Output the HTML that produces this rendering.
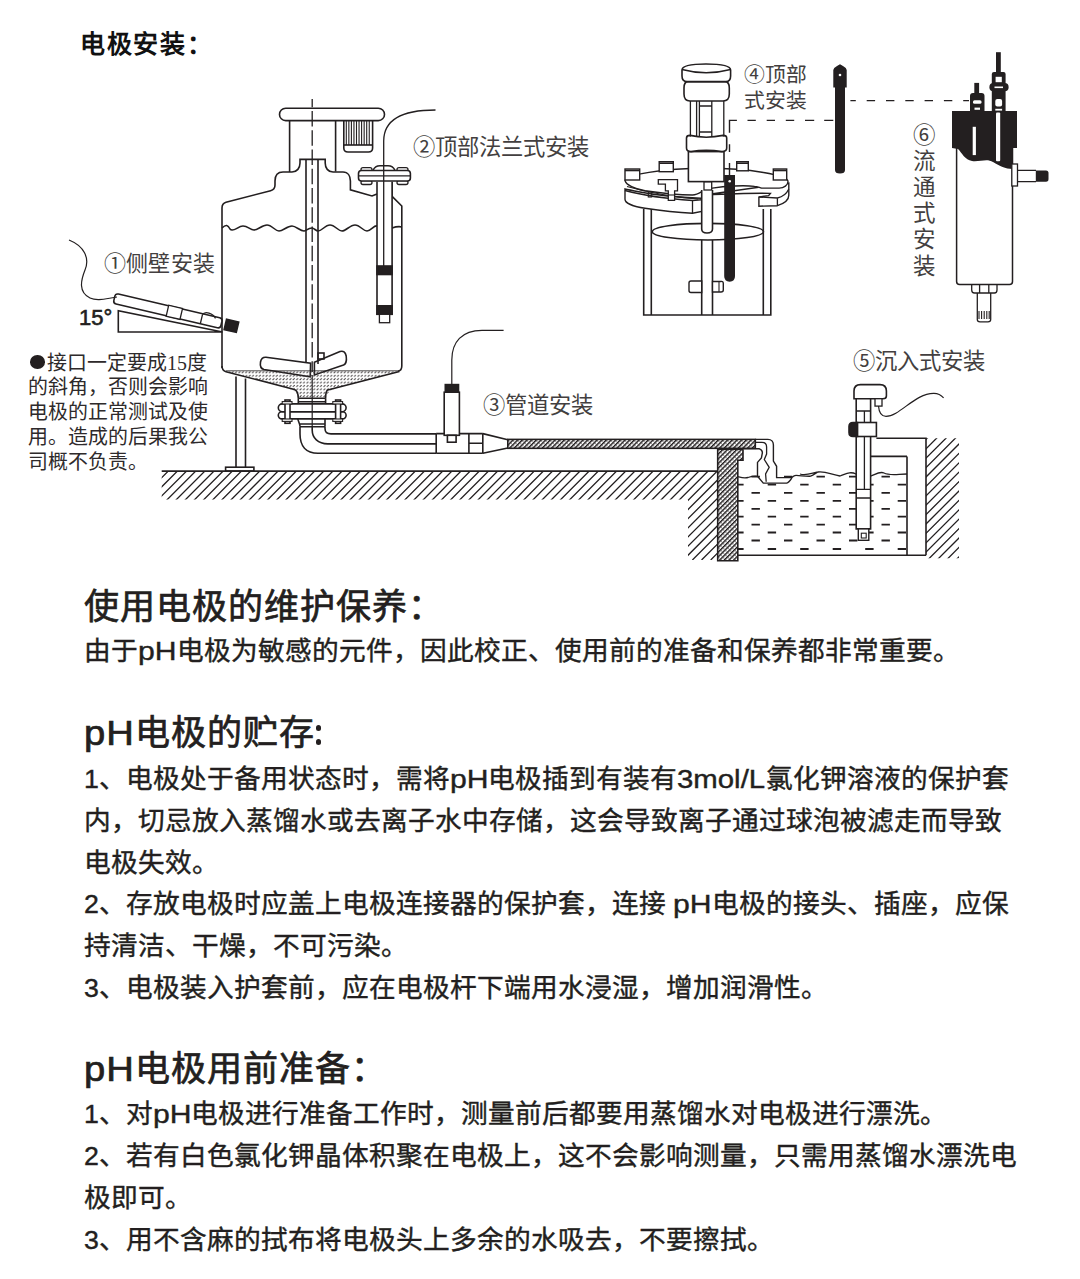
<!DOCTYPE html>
<html lang="zh-CN"><head><meta charset="utf-8">
<style>
html,body{margin:0;padding:0;background:#fff;}
body{width:1080px;height:1279px;position:relative;overflow:hidden;font-family:"Liberation Sans",sans-serif;color:#231f20;}
.t{position:absolute;white-space:nowrap;line-height:1;}
.h{font-size:35px;letter-spacing:1px;-webkit-text-stroke:0.7px #231f20;}
.b{font-size:26.7px;-webkit-text-stroke:0.4px #231f20;}
.sw{display:inline-block;white-space:nowrap;}
.si{display:inline-block;transform-origin:0 50%;}
.phh{letter-spacing:2.5px;}
.la{letter-spacing:1px;}
.lb{position:absolute;white-space:nowrap;line-height:1;font-family:"Liberation Serif",serif;color:#433f40;}
svg{position:absolute;left:0;top:0;}
</style></head><body>
<svg width="1080" height="570" viewBox="0 0 1080 570">
<defs>
 <pattern id="stip" width="3.4" height="3.4" patternUnits="userSpaceOnUse">
  <path d="M0.5,2.7 L2.3,0.9" stroke="#3a3637" stroke-width="1"/>
 </pattern>
 <pattern id="fh" width="3.3" height="3.3" patternUnits="userSpaceOnUse" patternTransform="rotate(45)">
  <line x1="0.7" y1="0" x2="0.7" y2="3.3" stroke="#231f20" stroke-width="1.4"/>
  <circle cx="2.3" cy="1.6" r="0.5" fill="#231f20"/>
 </pattern>
 <clipPath id="gclip"><path d="M161.7,471.1 H717.7 V560 H688 V499.5 H161.7 Z"/></clipPath>
 <clipPath id="wclip"><rect x="926" y="438.3" width="33" height="120"/></clipPath>
</defs>
<g fill="none" stroke="#231f20" stroke-width="1.6"><rect x="279.5" y="108.2" width="105" height="12.4" rx="6.2"/>
<path d="M289.6,120.6 V172 M335.6,120.6 V171.5"/>
<path d="M343.8,120.6 V148 Q343.8,152 348,152 H368.4 Q372.6,152 372.6,148 V120.6"/>
<path d="M343.8,145 H372.6"/>
<path d="M346.30,120.6 V145 M348.85,120.6 V145 M351.40,120.6 V145 M353.95,120.6 V145 M356.50,120.6 V145 M359.05,120.6 V145 M361.60,120.6 V145 M364.15,120.6 V145 M366.70,120.6 V145 M369.25,120.6 V145" stroke-width="1.1"/>
<path d="M222,368 V208 C222,205 223.5,203 226,202.3 L270.6,190.7 C273.5,190 275,188 275,185 L275,181 C275,176 277,172 283,172 L292,172 C297,172 300,168 300,163 L300,159.4 L325.2,159.4 L325.2,163 C325.2,168 328,172 333,172 L343,172 C348,172 350.4,176 350.4,181 L350.4,189.8 L372,196 L377,194"/>
<path d="M392.1,181.8 V196.3 L401.8,206 V366 Q401.8,370.6 398,371.2"/>
<path d="M306,159.4 V362 M318,159.4 V364"/>
<path d="M312.2,99 V372" stroke-width="1.3" stroke-dasharray="15.5,3.74" stroke-dashoffset="7.2"/>
<path d="M312.2,375 V426.7" stroke-width="1.2"/>
<path d="M222,228 C226,224 228,225 230,229 C233,233 238,226 243,226 C248,226 250,230 254,230 C258,230 262,225 267,225 C272,225 275,231 279,231 C283,231 287,226 292,226 C296,226 300,231 304,231 C306,231 308,228 312,228 C314,228 316,231 318,231 C322,231 325,225 330,225 C335,225 338,231 342,231 C346,231 350,225 355,225 C360,225 363,231 367,231 C371,231 374,225 377,226 L392,228 C395,227 398,226 401.8,227"/>
<path d="M266,357.3 L310.6,363.3 L310.2,376.7 L264,369.5 Q259.5,368.5 260.5,362 Q261.5,357 266,357.3 Z"/>
<path d="M314.4,362.2 L340,351.5 Q345,350 346.2,356 Q347.2,363.5 343.5,365 L314.4,375 Z"/>
<rect x="318" y="353" width="6" height="6"/>
<path d="M224,370.8 H399.4 L367.8,380 C333,388 327.8,390 325.6,398.3 H298.3 C296.5,390 294.4,389.4 260,380 Z" fill="url(#stip)" stroke="none"/>
<path d="M222,366 Q222,370.6 226,371.7 L294.4,389.4 C297,390.5 298.3,394 298.3,398.3"/>
<path d="M399.4,371.4 L327.8,390 C326,391 325.6,394 325.6,398.3"/>
<path d="M226,370.8 H399" stroke-width="0.8"/>
<path d="M298.3,398.3 H325.6 M298.3,401.7 H325.6 M298.3,398.3 V403.9 M325.6,398.3 V403.9"/>
<rect x="278.3" y="403.9" width="67.8" height="7.8" rx="3.9"/>
<rect x="278.3" y="411.7" width="67.8" height="7.2" rx="3.6"/>
<rect x="285.0" y="400" width="5" height="23.3" fill="#fff"/>
<rect x="282.2" y="401.6" width="9.8" height="2.4" fill="#fff" stroke-width="1.1"/>
<rect x="282.2" y="419" width="9.8" height="2.4" fill="#fff" stroke-width="1.1"/>
<rect x="335.6" y="400" width="5" height="23.3" fill="#fff"/>
<rect x="332.8" y="401.6" width="9.8" height="2.4" fill="#fff" stroke-width="1.1"/>
<rect x="332.8" y="419" width="9.8" height="2.4" fill="#fff" stroke-width="1.1"/>
<path d="M297.8,418.9 C298.5,422 300,424 300,426.7 M325,418.9 C325,421 325,423 325,426.7 M299,424 H325 M300,426.7 H325"/>
<path d="M300,426.7 V434 C300,446 306,453.3 318,453.3 H436.2"/>
<path d="M312.2,426.7 V430 C312.2,438 318,443.9 327.8,443.9 H436.2"/>
<path d="M325,426.7 V428.5 C325,432 327,433.9 331,433.9 H436.2"/>
<path d="M236,376.5 V467.2 M245.5,378.5 V467.2"/>
<rect x="225.6" y="467.2" width="28.3" height="3.9"/></g><g clip-path="url(#gclip)"><path d="M70.20,560 L160.20,470 M79.35,560 L169.35,470 M88.50,560 L178.50,470 M97.65,560 L187.65,470 M106.80,560 L196.80,470 M115.95,560 L205.95,470 M125.10,560 L215.10,470 M134.25,560 L224.25,470 M143.40,560 L233.40,470 M152.55,560 L242.55,470 M161.70,560 L251.70,470 M170.85,560 L260.85,470 M180.00,560 L270.00,470 M189.15,560 L279.15,470 M198.30,560 L288.30,470 M207.45,560 L297.45,470 M216.60,560 L306.60,470 M225.75,560 L315.75,470 M234.90,560 L324.90,470 M244.05,560 L334.05,470 M253.20,560 L343.20,470 M262.35,560 L352.35,470 M271.50,560 L361.50,470 M280.65,560 L370.65,470 M289.80,560 L379.80,470 M298.95,560 L388.95,470 M308.10,560 L398.10,470 M317.25,560 L407.25,470 M326.40,560 L416.40,470 M335.55,560 L425.55,470 M344.70,560 L434.70,470 M353.85,560 L443.85,470 M363.00,560 L453.00,470 M372.15,560 L462.15,470 M381.30,560 L471.30,470 M390.45,560 L480.45,470 M399.60,560 L489.60,470 M408.75,560 L498.75,470 M417.90,560 L507.90,470 M427.05,560 L517.05,470 M436.20,560 L526.20,470 M445.35,560 L535.35,470 M454.50,560 L544.50,470 M463.65,560 L553.65,470 M472.80,560 L562.80,470 M481.95,560 L571.95,470 M491.10,560 L581.10,470 M500.25,560 L590.25,470 M509.40,560 L599.40,470 M518.55,560 L608.55,470 M527.70,560 L617.70,470 M536.85,560 L626.85,470 M546.00,560 L636.00,470 M555.15,560 L645.15,470 M564.30,560 L654.30,470 M573.45,560 L663.45,470 M582.60,560 L672.60,470 M591.75,560 L681.75,470 M600.90,560 L690.90,470 M610.05,560 L700.05,470 M619.20,560 L709.20,470 M628.35,560 L718.35,470 M637.50,560 L727.50,470 M646.65,560 L736.65,470 M655.80,560 L745.80,470 M664.95,560 L754.95,470 M674.10,560 L764.10,470 M683.25,560 L773.25,470 M692.40,560 L782.40,470 M701.55,560 L791.55,470 M710.70,560 L800.70,470 M719.85,560 L809.85,470 M729.00,560 L819.00,470 M738.15,560 L828.15,470 M747.30,560 L837.30,470 M756.45,560 L846.45,470 M765.60,560 L855.60,470 M774.75,560 L864.75,470 M783.90,560 L873.90,470 M793.05,560 L883.05,470" stroke="#231f20" stroke-width="1.3" fill="none"/></g><path d="M161.7,471.1 H717.7" stroke="#231f20" stroke-width="1.6"/><g fill="none" stroke="#231f20" stroke-width="1.6"><path d="M436.2,433.6 V453.3 M468.9,433.6 V453.3 M482.8,433.6 V453.3 M436.2,433.6 H482.8 M436.2,453.3 H482.8 M468.9,443.3 H482.8"/>
<path d="M482.8,433.6 L507.8,439.7 M482.8,453.3 L507.8,448"/>
<rect x="444.2" y="392.2" width="15.2" height="43.1" fill="#fff"/>
<rect x="447.4" y="435.3" width="8.7" height="6.9" fill="#fff"/>
<rect x="445.3" y="384.6" width="13.2" height="7.6" fill="#231f20"/>
<path d="M451.8,384.6 V360 C451.8,342 462,330.4 482,330.4 H503.6" stroke-width="1.2"/></g><g fill="none" stroke="#231f20" stroke-width="1.6"><rect x="507.8" y="439.4" width="247.5" height="8.9" fill="url(#fh)"/>
<path d="M717.7,449.2 H743 V460.2 H737.8 V560.7 H717.7 Z" fill="url(#fh)"/>
<path d="M755.3,439.4 H767.9 C771.5,439.4 773.4,442 773.4,445 V461.1 L776.6,466.3 V477.6 H791.8 C793,476.5 794,475.4 796,475.4 C800,475.4 805,476.5 810,476.3" stroke-width="1.4"/>
<path d="M755.6,442.3 H762 C765,442.3 766.6,444.5 766.6,447 V454 L764.3,459.5 L769.2,467.3 L765.6,474 L766.2,481.8" stroke-width="1.3"/>
<path d="M743.9,448.8 H759.4 C761.5,449.5 762.4,451 762.4,452.7 L761.4,457.9 L757.5,462.4 V476.3 L763.3,483.1 H786.7 C789,482.5 790.5,480 791.8,478" stroke-width="1.4"/></g><g fill="none" stroke="#231f20" stroke-width="1.6"><path d="M737.8,476.7 C741,477.5 744,478.5 748,477.5 C751,476.5 754,475.5 757.5,476.3" stroke-width="1.3"/>
<path d="M810,476.3 C814,475 816,473 818,472 C826,471 832,475 840,476 C846,474 850,471 856,474 M800,474 C806,476 812,473 818,472 C826,471 832,475 840,476 C846,474 850,471 856,474 L871,476 C876,474 880,471 884,473 C890,476 898,474 907,474" stroke-width="1.3"/>
<path d="M737.8,555.3 H926 M907,456.4 V555.3 M870.6,456.4 H907 M876.4,438.3 H926 V555.3"/>
<path d="M751.5,476.7 H759.9 M784.0,476.7 H792.4 M816.5,476.7 H824.9 M849.0,476.7 H857.4 M881.5,476.7 H889.9 M737.8,484.6 H743.6 M767.7,484.6 H776.1 M800.2,484.6 H808.6 M832.7,484.6 H841.1 M865.2,484.6 H873.6 M897.7,484.6 H906.0 M751.5,492.8 H759.9 M784.0,492.8 H792.4 M816.5,492.8 H824.9 M849.0,492.8 H857.4 M881.5,492.8 H889.9 M737.8,500.8 H743.6 M767.7,500.8 H776.1 M800.2,500.8 H808.6 M832.7,500.8 H841.1 M865.2,500.8 H873.6 M897.7,500.8 H906.0 M751.5,508.8 H759.9 M784.0,508.8 H792.4 M816.5,508.8 H824.9 M849.0,508.8 H857.4 M881.5,508.8 H889.9 M737.8,516.7 H743.6 M767.7,516.7 H776.1 M800.2,516.7 H808.6 M832.7,516.7 H841.1 M865.2,516.7 H873.6 M897.7,516.7 H906.0 M751.5,524.6 H759.9 M784.0,524.6 H792.4 M816.5,524.6 H824.9 M849.0,524.6 H857.4 M881.5,524.6 H889.9 M737.8,532.5 H743.6 M767.7,532.5 H776.1 M800.2,532.5 H808.6 M832.7,532.5 H841.1 M865.2,532.5 H873.6 M897.7,532.5 H906.0 M751.5,540.5 H759.9 M784.0,540.5 H792.4 M816.5,540.5 H824.9 M849.0,540.5 H857.4 M881.5,540.5 H889.9 M737.8,549.0 H743.6 M767.7,549.0 H776.1 M800.2,549.0 H808.6 M832.7,549.0 H841.1 M865.2,549.0 H873.6 M897.7,549.0 H906.0" stroke-width="1.8"/></g><g clip-path="url(#wclip)"><path d="M796.00,560 L926.00,430 M805.40,560 L935.40,430 M814.80,560 L944.80,430 M824.20,560 L954.20,430 M833.60,560 L963.60,430 M843.00,560 L973.00,430 M852.40,560 L982.40,430 M861.80,560 L991.80,430 M871.20,560 L1001.20,430 M880.60,560 L1010.60,430 M890.00,560 L1020.00,430 M899.40,560 L1029.40,430 M908.80,560 L1038.80,430 M918.20,560 L1048.20,430 M927.60,560 L1057.60,430 M937.00,560 L1067.00,430 M946.40,560 L1076.40,430 M955.80,560 L1085.80,430 M965.20,560 L1095.20,430 M974.60,560 L1104.60,430" stroke="#231f20" stroke-width="1.3" fill="none"/></g><g fill="none" stroke="#231f20" stroke-width="1.6"><path d="M856.2,398.7 V528.9 H870.6 V398.7" fill="#fff"/>
<path d="M854,398.7 V391 Q854,384.6 860.5,384.6 H880 Q886.4,384.6 886.4,391 V396 Q886.4,398.7 883,398.7 Z" fill="#fff"/>
<rect x="875" y="398.7" width="7" height="7.4" fill="#fff" stroke-width="1.3"/>
<path d="M856.2,411 H870.6 M864.4,411 V489 M856.2,489.3 H870.6 M856.2,498 H870.6" stroke-width="1.3"/>
<rect x="857.4" y="422.5" width="19" height="14" fill="#fff"/>
<path d="M857.4,422.5 H853 Q849,422.5 849,426.5 V432.5 Q849,436.5 853,436.5 H857.4 Z" fill="#231f20"/>
<rect x="858.3" y="528.9" width="10.5" height="11.4" fill="#fff" stroke-width="1.4"/>
<rect x="861.3" y="533.2" width="4.9" height="4.8" stroke-width="1.1"/>
<path d="M878.5,406 C879,413 881,416.3 886,416.3 C900,416.3 915,393 934,393.4 C938,393.5 941,395 943.6,397.8" stroke-width="1.2"/></g><g fill="none" stroke="#231f20" stroke-width="1.6"><path d="M118.3,310.8 V332 H222.5 Z" fill="#fff"/>
<g transform="translate(116,293.5) rotate(13.2)"><rect x="-0.5" y="0" width="110" height="10.2" rx="3" fill="#fff"/><rect x="54" y="-0.6" width="14.2" height="11.2" fill="#fff" stroke-width="1.3"/><path d="M89,1 V10.2 M89,1 Q90,-2.5 95,-2.2 Q100,-1.8 102.6,1.5" stroke-width="1.3"/><rect x="113.5" y="-0.2" width="12.5" height="10.6" fill="#231f20"/></g>
<path d="M117,297 C108,298 98,302 90,298 C78,292 81,280 85,270 C90,258 84,246 69,240" stroke-width="1.2"/></g><g fill="none" stroke="#231f20" stroke-width="1.6"><path d="M377,181.8 V314.3 H392.1 V181.8" fill="#fff"/>
<rect x="377" y="266" width="15.1" height="8.5" fill="#231f20"/>
<rect x="377" y="305.8" width="15.1" height="8.5" fill="#231f20"/>
<rect x="379.4" y="314.3" width="10.3" height="8.4" fill="#fff" stroke-width="1.3"/>
<path d="M373,170.5 Q375,165.8 380,165.8 H388 Q393,165.8 395,170.5" fill="#fff"/>
<rect x="361" y="167.6" width="11" height="4" rx="2" fill="#fff" stroke-width="1.3"/>
<rect x="397" y="167.6" width="11" height="4" rx="2" fill="#fff" stroke-width="1.3"/>
<rect x="361" y="180.5" width="11" height="4" rx="2" fill="#fff" stroke-width="1.3"/>
<rect x="397" y="180.5" width="11" height="4" rx="2" fill="#fff" stroke-width="1.3"/>
<rect x="358.5" y="170.5" width="51.9" height="10.5" rx="3" fill="#fff"/>
<path d="M358.5,175.8 H410.4" stroke-width="1.3"/>
<path d="M383.7,266 V141 C383.7,122 398,110 435.5,110" stroke-width="1.3"/></g><g fill="none" stroke="#231f20" stroke-width="1.6"><path d="M643.7,209 V315 H770.8 V209 M651.3,209 V315 M763.3,209 V315"/>
<ellipse cx="707.9" cy="231.7" rx="55.6" ry="8.3"/>
<path d="M701.7,240 V315 M712.5,240 V315"/>
<path d="M701.7,281 H691 Q689,281 689,283 V290.5 Q689,292.5 691,292.5 H701.7 Z" fill="#fff" stroke-width="1.4"/>
<path d="M712.5,281.5 H721 Q723.3,281 723.3,283.5 V290 Q723.3,292 721,292 H712.5 Z" fill="#fff" stroke-width="1.4"/>
<path d="M719,281.5 V292" stroke-width="1.1"/>
<path d="M625,189 V199.2 C625,203 633,206.5 645,208.3 C660,210.5 678,212.5 692.5,213.3 L704.2,211 V199.5 L701,198.3 C680,197.5 655,195 640,192 C632,190.5 627,189.5 625,189 Z" fill="#fff" stroke-width="1.4"/>
<path d="M692.5,213.3 V200.5 L704.2,199.5 M692.5,200.5 C670,199 645,196 625,190.5" stroke-width="1.3"/>
<path d="M704.2,195 C730,193.8 755,193 770.4,193.4 L768.6,195.6 L758.9,197 V206.2 L777.4,205.7 C784,203.5 788.8,199.5 788.8,195.2 V183 Z" fill="#fff" stroke-width="1.4"/>
<path d="M758.9,197 L777.4,198 C782,197 786.5,194 788.8,189 M777.4,198 V205.7" stroke-width="1.3"/>
<path d="M625,180.5 C625,175 662,168.3 706,168.3 C750,168.3 788,175 788,181.5 C788,185 784,188.1 779.2,188.1 L761.6,188.1 C758,187 757,186.4 754.5,186.4 C745,185 725,186 712.3,188.1 L701.7,191.7 C698,194 695,195 692.5,195 C680,195 660,193 645,190.8 C635,189 626,185 625,180.5 Z" fill="#fff" stroke-width="1.4"/>
<path d="M627,186.5 C650,193 675,197 698.3,199.2" stroke-width="1.2"/>
<rect x="648.3" y="192" width="3.4" height="5" stroke-width="1.1"/>
<path d="M701.7,190 V229 Q701.7,233 707,233 Q712.5,233 712.5,229 V190" fill="#fff"/>
<rect x="704" y="181.7" width="7.7" height="8.3" fill="#fff" stroke-width="1.3"/>
<path d="M658.3,179.7 H677.5 V190.8 H674.6 V200.4 H668.3 V190.8 H665.4 V184.2 H658.3 Z" fill="#fff" stroke-width="1.3"/>
<path d="M668.3,195 H674.2" stroke-width="1.1"/>
<rect x="625" y="169" width="14.7" height="11" fill="#fff" stroke-width="1.4"/>
<path d="M625,170.5 H639.7" stroke-width="1.6"/>
<rect x="659.2" y="161.7" width="14.1" height="10" fill="#fff" stroke-width="1.4"/>
<path d="M659.2,163.2 H673.3000000000001" stroke-width="1.6"/>
<rect x="736.7" y="161.7" width="11.6" height="9.1" fill="#fff" stroke-width="1.4"/>
<path d="M736.7,163.2 H748.3000000000001" stroke-width="1.6"/>
<rect x="773.3" y="169" width="13.4" height="11" fill="#fff" stroke-width="1.4"/>
<path d="M773.3,170.5 H786.6999999999999" stroke-width="1.6"/>
<rect x="688.4" y="151.6" width="35.6" height="30" fill="#fff"/>
<path d="M686.5,138 Q686.5,135.4 690,135.4 Q706,139 723,135.4 Q726.7,135.4 726.7,138 V148 Q726.7,151.6 722,151.6 Q706,149 691,151.6 Q686.5,151.6 686.5,148 Z" fill="#fff"/>
<path d="M690.4,101 V136.5 M723.8,101 V136.5 M696.6,101 V137 M699.4,101 V137 M711.8,101 V137 M699.4,106 H711.8 M699.4,132 H711.8" stroke-width="1.3"/>
<path d="M688,81.6 H725 Q729.3,81.6 729.3,88 V94 Q729.3,101 723,101 H690 Q684,101 684,94 V88 Q684,81.6 688,81.6 Z" fill="#fff"/>
<path d="M682,70 Q682,64 706,64 Q730.6,64 730.6,70 V76 Q730.6,81.6 726,81.6 H687 Q682,81.6 682,76 Z" fill="#fff"/>
<path d="M682,69.5 Q706,76 730.6,69.5" stroke-width="1.3"/>
<path d="M724.2,175 H735 V276 Q735,281.7 729.6,281.7 Q724.2,281.7 724.2,276 Z" fill="#231f20" stroke="none"/>
<circle cx="729.7" cy="181.3" r="1.3" fill="#fff" stroke="none"/>
<path d="M736.9,120.4 H729.5 V132.7 M729.5,144.2 V151.9 M729.5,163.1 V175 M747.5,120.4 H755.8 M766.7,120.4 H775 M785.8,120.4 H794.2 M805,120.4 H814.2 M824.2,120.4 H833.3" stroke-width="1.4"/>
<path d="M850.4,100.6 H969" stroke-width="1.4" stroke-dasharray="8.4,10.9" stroke-dashoffset="3"/></g><path d="M835,87.5 V170 Q835,173.5 840,173.5 Q845,173.5 845,170 V87.5 H846.7 V70 Q846.7,68 843,66 L840,64.2 L837,66 Q833.3,68 833.3,70 V87.5 Z" fill="#231f20"/><circle cx="840" cy="75" r="1.3" fill="#fff"/><g fill="none" stroke="#231f20" stroke-width="1.5"><path d="M956.6,148 V281.5 Q956.6,284.5 959.6,284.5 H1009.5 Q1012.5,284.5 1012.5,281.5 V148" fill="#fff"/>
<path d="M952,111 H1017 V148 H1012.8 V169 C1005,169 1000,166 993,162 C987,158 980,162 972,161 C965,160 962,153 958,149 L952,148 Z" fill="#231f20" stroke="none"/>
<rect x="972.7" y="126.8" width="3.2" height="28.3" fill="#fff" stroke="none"/>
<rect x="996" y="112.4" width="4.2" height="48.8" fill="#fff" stroke="none" rx="1"/>
<rect x="974.3" y="82.9" width="4.8" height="11" fill="#231f20" stroke="none"/>
<path d="M970,111 V96 Q970,93 973,93 H981.5 Q984.5,93 984.5,96 V111 Z" fill="#231f20" stroke="none"/>
<rect x="973" y="100.2" width="8.5" height="3.6" rx="1.5" fill="#fff" stroke="none"/>
<rect x="974.5" y="107.6" width="5.5" height="2.2" fill="#fff" stroke="none"/>
<rect x="996" y="52.2" width="4.8" height="20" fill="#231f20" stroke="none"/>
<path d="M991.8,111 V74 Q991.8,72 994,72 H1003.5 Q1005.6,72 1005.6,74 V111 Z" fill="#231f20" stroke="none"/>
<rect x="989.4" y="83" width="19.2" height="8.3" rx="4" fill="#231f20" stroke="none"/>
<rect x="995.6" y="76.8" width="6.2" height="5.4" fill="#fff" stroke="none"/>
<rect x="994.5" y="86.5" width="8.5" height="1.6" fill="#fff" stroke="none"/>
<rect x="995.3" y="99" width="6.8" height="7.4" rx="2" fill="#fff" stroke="none"/>
<rect x="995.3" y="108.8" width="6.8" height="1.8" fill="#fff" stroke="none"/>
<rect x="1011.8" y="164" width="5.7" height="22" fill="#fff" stroke-width="1.3"/>
<path d="M1017.5,170.4 H1036 M1017.5,181.7 H1036" stroke-width="1.3"/>
<path d="M1035.8,170.4 H1046 Q1048.5,170.4 1048.5,173 V179 Q1048.5,181.7 1046,181.7 H1035.8 Z" fill="#231f20" stroke="none"/>
<path d="M971.7,284.5 V290 Q971.7,293 974.5,293 H994.5 Q997,293 997,290 V284.5 M979.6,284.5 V293 M988.8,284.5 V293" stroke-width="1.3"/>
<path d="M977.3,293 V319.5 Q977.3,321.8 980,321.8 H988 Q990.7,321.8 990.7,319.5 V293" stroke-width="1.3"/>
<path d="M979,311 V319 M981.6,311 V319 M984.2,311 V319 M986.8,311 V319 M989.2,311 V319" stroke-width="1.1"/></g></svg>

<div class="lb" style="left:104px;top:253px;font-size:22px;letter-spacing:0.2px">①侧壁安装</div>
<div class="lb" style="left:413px;top:136.5px;font-size:22.3px">②顶部法兰式安装</div>
<div class="lb" style="left:482.5px;top:394.5px;font-size:22.3px">③管道安装</div>
<div class="lb" style="left:744px;top:62px;font-size:20.8px;line-height:25.5px">④顶部<br>式安装</div>
<div class="lb" style="left:852.5px;top:351px;font-size:22.3px">⑤沉入式安装</div>
<div class="lb" style="left:913px;top:122.5px;font-size:22.5px;line-height:26.2px;width:24px;white-space:normal">⑥<br>流<br>通<br>式<br>安<br>装</div>
<div class="t" style="left:79px;top:306.5px;font-size:22px;font-family:'Liberation Sans',sans-serif;color:#231f20;-webkit-text-stroke:0.6px #231f20">15°</div>
<div style="position:absolute;left:30.3px;top:355.4px;width:14.6px;height:13.6px;border-radius:50%;background:#231f20"></div>
<div class="lb" style="left:47px;top:350.5px;font-size:19.9px;line-height:24.9px;color:#2e2a2b">接口一定要成15度</div>
<div class="lb" style="left:28px;top:375.4px;font-size:19.9px;line-height:24.9px;color:#2e2a2b">的斜角，否则会影响<br>电极的正常测试及使<br>用。造成的后果我公<br>司概不负责。</div>


<div class="t" style="left:80.3px;top:32px;font-size:25px;font-weight:700;letter-spacing:1.6px;color:#111">电极安装：</div>

<div class="t h" style="left:84px;top:589px">使用电极的维护保养：</div>
<div class="t b" style="left:84px;top:638px">由于<span class="sw" style="width:38.5px"><span class="si" style="transform:scaleX(1.13)">pH</span></span>电极为敏感的元件，因此校正、使用前的准备和保养都非常重要。</div>

<div class="t h" style="left:84px;top:715px"><span class="sw" style="width:50.5px"><span class="si" style="transform:scaleX(1.09)">pH</span></span>电极的贮存</div>
<div style="position:absolute;left:315.5px;top:725.4px;width:5.3px;height:5.3px;border-radius:50%;background:#231f20"></div>
<div style="position:absolute;left:315.5px;top:739.4px;width:5.3px;height:5.3px;border-radius:50%;background:#231f20"></div>
<div class="t b" style="left:84px;top:766px">1、电极处于备用状态时，需将<span class="sw" style="width:38.5px"><span class="si" style="transform:scaleX(1.13)">pH</span></span>电极插到有装有<span class="sw" style="width:88.5px"><span class="si" style="transform:scaleX(1.1)">3mol/L</span></span>氯化钾溶液的保护套</div>
<div class="t b" style="left:84px;top:808px">内，切忌放入蒸馏水或去离子水中存储，这会导致离子通过球泡被滤走而导致</div>
<div class="t b" style="left:84px;top:850px">电极失效。</div>
<div class="t b" style="left:84px;top:891px">2、存放电极时应盖上电极连接器的保护套，连接 <span class="sw" style="width:38.5px"><span class="si" style="transform:scaleX(1.13)">pH</span></span>电极的接头、插座，应保</div>
<div class="t b" style="left:84px;top:933px">持清洁、干燥，不可污染。</div>
<div class="t b" style="left:84px;top:975px">3、电极装入护套前，应在电极杆下端用水浸湿，增加润滑性。</div>

<div class="t h" style="left:84px;top:1051px"><span class="sw" style="width:50.5px"><span class="si" style="transform:scaleX(1.09)">pH</span></span>电极用前准备：</div>
<div class="t b" style="left:84px;top:1101px">1、对<span class="sw" style="width:38.5px"><span class="si" style="transform:scaleX(1.13)">pH</span></span>电极进行准备工作时，测量前后都要用蒸馏水对电极进行漂洗。</div>
<div class="t b" style="left:84px;top:1143px">2、若有白色氯化钾晶体积聚在电极上，这不会影响测量，只需用蒸馏水漂洗电</div>
<div class="t b" style="left:84px;top:1185px">极即可。</div>
<div class="t b" style="left:84px;top:1227px">3、用不含麻的拭布将电极头上多余的水吸去，不要擦拭。</div>

</body></html>
